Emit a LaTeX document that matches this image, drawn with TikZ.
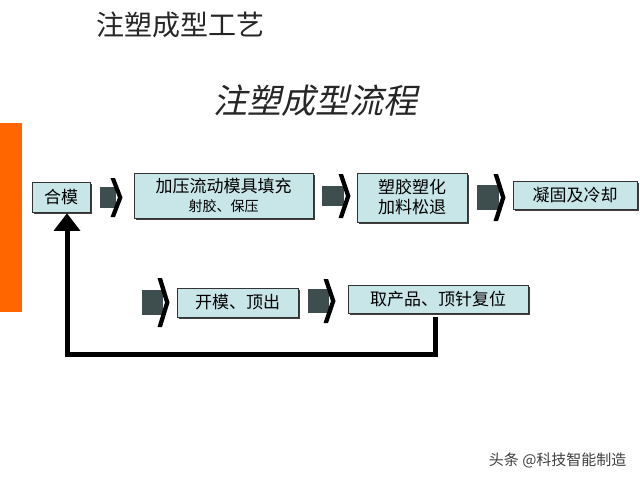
\documentclass[tikz,border=0pt]{standalone}
\usepackage{fontspec}
\newfontfamily\cjk{Noto Sans CJK SC}
\newfontfamily\cjkslant[FakeSlant=0.22]{Noto Sans CJK SC}
\usetikzlibrary{arrows.meta,shadows}
\definecolor{boxfill}{RGB}{200,229,232}
\definecolor{arrgray}{RGB}{62,78,78}
\definecolor{barorange}{RGB}{255,102,0}
\newcommand\blkarrow[5]{%
  \fill[arrgray] (#1,#3-#4) rectangle (#2+2,#3+#4);
  \fill[black] (#2-3.5,#3-#5) -- (#2+1,#3-#5) -- (#2+8.5,#3) -- (#2+1,#3+#5) -- (#2-3.5,#3+#5) -- (#2+4,#3) -- cycle;}
\begin{document}
\begin{tikzpicture}[x=1pt,y=-1pt,
  procbox/.style={draw=black!80, line width=0.8pt, fill=boxfill, inner sep=0pt,
    font=\cjk\fontsize{17}{20}\selectfont, align=center,
    general shadow={fill=black!75, shadow xshift=1.5pt, shadow yshift=-1.5pt}},
  feedback/.style={line width=5pt, draw=black}]
\useasboundingbox (0,0) rectangle (640,480);
\fill[white] (0,0) rectangle (640,480);
% orange side bar
\fill[barorange] (0,123) rectangle (22,312);
% titles
\node[font=\cjk\fontsize{28}{30}\selectfont, text=black!85] (t1) at (180,25) {注塑成型工艺};
\node[font=\cjkslant\fontsize{34}{38}\selectfont, text=black!85] (t2) at (315,101) {注塑成型流程};
% boxes
\node[procbox, minimum width=58pt, minimum height=30pt] (b1) at (61,197) {合模};
\node[procbox, minimum width=179pt, minimum height=45pt] (b2) at (223.5,195.5)
  {\fontsize{17}{19}\selectfont 加压流动模具填充\\[-1pt]{\fontsize{14}{15}\selectfont 射胶、保压}};
\node[procbox, minimum width=110pt, minimum height=49pt] (b3) at (412,197.5)
  {\fontsize{17}{22}\selectfont 塑胶塑化\\加料松退};
\node[procbox, minimum width=124pt, minimum height=28pt] (b4) at (575,195) {凝固及冷却};
\node[procbox, minimum width=121pt, minimum height=29pt] (b5) at (237.5,302.5) {开模、顶出};
\node[procbox, minimum width=180pt, minimum height=28pt] (b6) at (438,299) {取产品、顶针复位};
% block arrows
\blkarrow{100}{114}{197.5}{10.5}{19.5}
\blkarrow{322}{342}{196}{10}{22}
\blkarrow{477}{497}{197.5}{12.5}{23.5}
\blkarrow{142}{161}{302.5}{12.5}{24.5}
\blkarrow{308}{327}{301}{12}{22}
% feedback line
\coordinate (c1) at (435,354);
\coordinate (c2) at (67,354);
\draw[feedback] ([yshift=-4pt]b6.south -| c1) -- (c1) -- (c2) -- ([yshift=-16pt]c2 |- b1.south);
\fill[black] ([yshift=-1pt]c2 |- b1.south) -- ++(13.5,17.5) -- ++(-27,0) -- cycle;
% watermark
\node[anchor=east, font=\cjk\fontsize{15}{17}\selectfont, text=black!75] (wm) at (630,460) {头条 @科技智能制造};
\end{tikzpicture}
\end{document}
